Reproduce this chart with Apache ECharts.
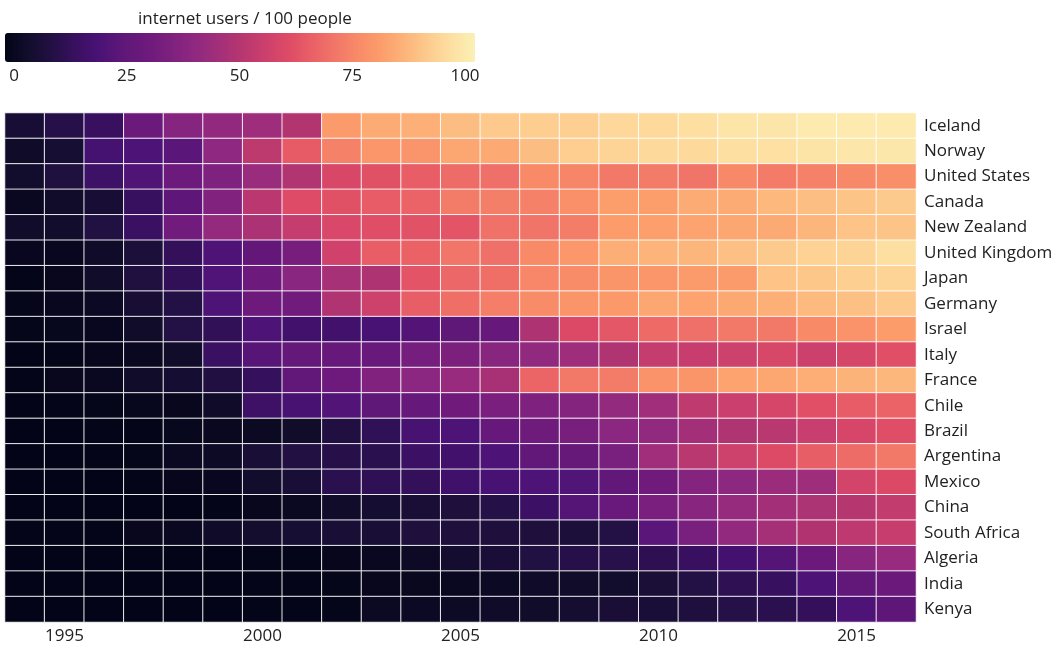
<!DOCTYPE html>
<html>
<head>
<meta charset="utf-8">
<script src="https://cdn.jsdelivr.net/npm/echarts@6/dist/echarts.min.js"></script>
<style>
html,body{margin:0;padding:0;background:#fff;}
#chart{width:1060px;height:648px;}
</style>
</head>
<body>
<div id="chart"></div>
<script>
const years = ['1994','1995','1996','1997','1998','1999','2000','2001','2002','2003','2004','2005','2006','2007','2008','2009','2010','2011','2012','2013','2014','2015','2016'];
const countries = ['Iceland','Norway','United States','Canada','New Zealand','United Kingdom','Japan','Germany','Israel','Italy','France','Chile','Brazil','Argentina','Mexico','China','South Africa','Algeria','India','Kenya'];
const legendTicks = [0, 25, 50, 75, 100];

const iceland      = [6.8, 10.9, 14.9, 29.8, 37.9, 41.2, 44.5, 49.4, 79.1, 83.1, 83.9, 87.0, 89.5, 90.6, 91.0, 93.0, 93.4, 94.8, 96.2, 96.5, 98.2, 98.2, 98.2];
const norway       = [4.1, 6.4, 19.0, 21.0, 24.0, 40.0, 52.0, 64.0, 72.8, 78.1, 77.7, 82.0, 82.5, 86.9, 90.6, 92.1, 93.4, 93.5, 94.7, 95.1, 96.3, 96.8, 97.3];
const unitedStates = [4.9, 9.2, 16.4, 21.6, 30.1, 35.8, 43.1, 49.1, 58.8, 61.7, 64.8, 68.0, 68.9, 75.0, 74.0, 71.0, 71.7, 69.7, 74.7, 71.4, 73.0, 74.6, 76.2];
const canada       = [2.4, 4.2, 6.8, 15.1, 24.9, 36.2, 51.3, 60.2, 61.6, 64.2, 66.0, 71.7, 72.4, 73.2, 76.7, 80.3, 80.3, 83.0, 83.0, 85.8, 87.1, 88.5, 89.8];
const newZealand   = [4.5, 4.9, 9.5, 15.5, 31.5, 41.5, 47.4, 53.7, 59.0, 61.0, 62.0, 62.7, 69.0, 69.8, 72.0, 79.7, 80.5, 81.2, 82.0, 82.8, 85.5, 88.2, 88.5];
const unitedKingdom= [1.9, 1.9, 4.1, 8.0, 13.7, 21.3, 26.8, 33.5, 56.5, 64.8, 65.6, 70.0, 68.8, 75.1, 78.4, 83.6, 85.0, 85.4, 87.5, 89.8, 91.6, 92.0, 94.8];
const japan        = [0.8, 1.6, 4.4, 9.2, 13.4, 21.4, 30.0, 38.5, 46.6, 48.4, 62.4, 66.9, 68.7, 74.3, 75.4, 78.0, 78.2, 79.1, 79.1, 88.2, 89.1, 91.1, 92.0];
const germany      = [0.9, 1.8, 3.0, 6.7, 9.9, 20.8, 30.2, 31.7, 48.8, 55.9, 64.7, 68.7, 72.2, 75.2, 78.0, 79.0, 82.0, 81.3, 82.3, 84.2, 86.2, 87.6, 89.6];
const israel       = [0.9, 1.4, 1.9, 4.5, 10.0, 13.5, 20.9, 17.4, 17.8, 19.5, 22.4, 25.2, 27.9, 48.1, 59.4, 63.1, 67.5, 68.9, 70.8, 70.8, 75.0, 77.4, 79.8];
const italy        = [0.2, 0.5, 1.3, 2.3, 4.5, 15.6, 23.1, 27.2, 28.0, 29.0, 33.2, 35.0, 38.0, 40.8, 44.5, 48.8, 53.7, 54.4, 55.8, 58.5, 55.6, 58.1, 61.3];
const france       = [0.4, 1.6, 2.4, 4.2, 6.3, 9.1, 14.3, 26.3, 30.2, 36.1, 39.2, 42.9, 46.9, 66.1, 70.7, 71.6, 77.3, 77.8, 81.4, 81.9, 83.8, 84.7, 85.6];
const chile        = [0.1, 0.5, 0.9, 1.4, 1.7, 4.1, 16.6, 19.1, 22.1, 25.5, 28.2, 31.2, 34.5, 35.9, 37.3, 41.6, 45.0, 52.3, 55.1, 58.0, 61.1, 64.3, 66.0];
const brazil       = [0.04, 0.1, 0.45, 0.79, 1.48, 2.04, 2.87, 4.53, 9.15, 13.2, 19.1, 21.0, 28.2, 30.9, 33.8, 39.2, 40.7, 45.7, 48.6, 51.0, 54.6, 58.3, 60.9];
const argentina    = [0.03, 0.08, 0.28, 0.84, 2.6, 3.3, 7.0, 9.8, 10.9, 11.9, 16.0, 17.7, 20.9, 26.0, 28.1, 34.0, 45.0, 51.0, 55.8, 59.9, 64.7, 68.0, 71.0];
const mexico       = [0.04, 0.1, 0.2, 0.6, 1.3, 1.9, 5.1, 7.0, 11.9, 12.9, 14.1, 17.2, 19.5, 20.8, 21.7, 26.3, 31.1, 37.2, 39.8, 43.5, 44.4, 57.4, 59.5];
const china        = [0.0, 0.0, 0.01, 0.03, 0.17, 0.71, 1.78, 2.64, 4.6, 6.2, 7.3, 8.5, 10.5, 16.0, 22.6, 28.9, 34.3, 38.3, 42.3, 45.8, 47.9, 50.3, 53.2];
const southAfrica  = [0.8, 0.7, 0.8, 1.6, 2.3, 4.0, 5.5, 6.5, 7.0, 7.0, 8.6, 8.4, 8.4, 8.4, 8.0, 10.0, 24.0, 34.0, 41.0, 46.5, 49.0, 51.9, 54.0];
const algeria      = [0.0, 0.0, 0.01, 0.02, 0.02, 0.16, 0.49, 0.65, 1.2, 2.2, 3.6, 5.8, 7.4, 9.5, 11.0, 11.2, 12.5, 14.9, 18.2, 22.5, 29.5, 38.2, 42.9];
const india        = [0.0, 0.03, 0.05, 0.07, 0.14, 0.27, 0.53, 0.66, 1.0, 1.69, 1.98, 2.39, 2.81, 3.95, 4.38, 5.12, 7.5, 10.1, 12.6, 15.1, 21.0, 26.0, 29.6];
const kenya        = [0.0, 0.0, 0.01, 0.06, 0.15, 0.26, 0.32, 0.62, 1.0, 2.94, 3.02, 3.1, 4.0, 4.2, 6.0, 7.3, 7.2, 8.8, 10.5, 12.0, 14.0, 21.0, 25.0];

const rows = [iceland, norway, unitedStates, canada, newZealand, unitedKingdom, japan, germany, israel, italy, france, chile, brazil, argentina, mexico, china, southAfrica, algeria, india, kenya];

// magma-like ramp as it appears in the reference (every 5 units, 0..100)
const ramp = ['#030417','#120d2c','#231044','#381060','#4a1276','#5e1778','#6c1a7c','#7c207e','#8e2880','#a02e7a','#b5366f','#ca3f6e','#dd4a66','#e95f66','#f17568','#f88a68','#fc9d6b','#fcb47a','#fdcb8e','#fde0a2','#fbf0b6'];

const data = [];
rows.forEach((vals, r) => vals.forEach((v, c) => data.push([c, r, v])));

const FONT = 'Open Sans';
const TXT = '#222222';
const chart = echarts.init(document.getElementById('chart'), null, {renderer: 'canvas'});
chart.setOption({
  backgroundColor: '#ffffff',
  animation: false,
  textStyle: {fontFamily: FONT},
  title: {
    text: 'internet users / 100 people',
    left: 133, top: 6,
    textStyle: {fontFamily: FONT, fontSize: 17, fontWeight: 'normal', color: TXT}
  },
  grid: [
    {left: 5, width: 911, top: 113, height: 509},
    {left: 14, width: 451, top: 62, height: 1}
  ],
  xAxis: [
    {
      type: 'category', data: years, gridIndex: 0,
      axisLine: {show: false}, axisTick: {show: false}, splitLine: {show: false},
      axisLabel: {
        interval: (i, v) => (+v) % 5 === 0,
        margin: 6, fontSize: 17, color: TXT, fontFamily: FONT
      }
    },
    {
      type: 'value', gridIndex: 1, min: 0, max: 100, interval: 25,
      axisLine: {show: false}, axisTick: {show: false}, splitLine: {show: false},
      axisLabel: {margin: 5, fontSize: 17, color: TXT, fontFamily: FONT,
        formatter: v => legendTicks.includes(v) ? String(v) : ''}
    }
  ],
  yAxis: [
    {
      type: 'category', data: countries, inverse: true, position: 'right', gridIndex: 0,
      axisLine: {show: false}, axisTick: {show: false}, splitLine: {show: false},
      axisLabel: {margin: 8, fontSize: 17, color: TXT, fontFamily: FONT, align: 'left'}
    },
    {type: 'value', gridIndex: 1, show: false}
  ],
  visualMap: {
    type: 'continuous', min: 0, max: 100, seriesIndex: 0,
    orient: 'horizontal', left: 5, top: 33, padding: 0,
    itemWidth: 29, itemHeight: 470,
    calculable: false, hoverLink: false, showLabel: false,
    text: null,
    inRange: {color: ramp}
  },
  series: [{
    type: 'heatmap', xAxisIndex: 0, yAxisIndex: 0,
    data: data,
    itemStyle: {borderColor: 'rgba(255,255,255,0.9)', borderWidth: 1},
    emphasis: {disabled: true}
  }]
});
</script>
</body>
</html>
